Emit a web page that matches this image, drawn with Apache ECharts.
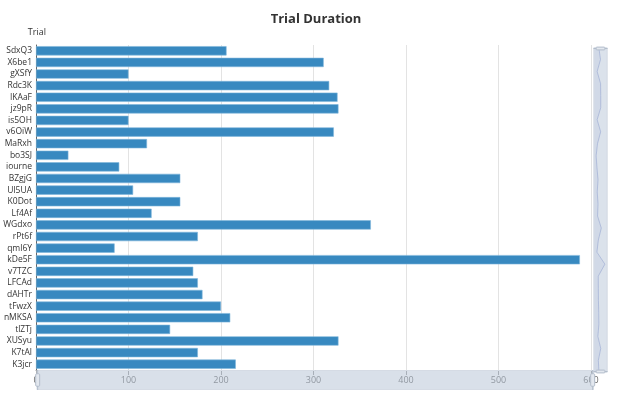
<!DOCTYPE html>
<html>
<head>
<meta charset="utf-8">
<script src="https://cdn.jsdelivr.net/npm/echarts@6/dist/echarts.min.js"></script>
<style>html,body{margin:0;padding:0;background:#fff}#c{width:632px;height:400px}</style>
</head>
<body>
<div id="c"></div>
<script>
var trials = ['SdxQ3','X6be1','gXSfY','Rdc3K','IKAaF','jz9pR','is5OH','v6OiW','MaRxh','bo3SJ','iourne','BZgjG','Ul5UA','K0Dot','Lf4Af','WGdxo','rPt6f','qml6Y','kDe5F','v7TZC','LFCAd','dAHTr','tFwzX','nMKSA','tlZTj','XUSyu','K7tAl','K3jcr'];
var durations = [206,311,100,317,326,327,100,322,120,35,90,156,105,156,125,362,175,85,588,170,175,180,200,210,145,327,175,216];
var xTicks = [0,100,200,300,400,500,600];

var chart = echarts.init(document.getElementById('c'));
chart.setOption({
  animation: false,
  textStyle: {fontFamily: '"Open Sans", "Noto Sans", sans-serif'},
  title: {
    text: 'Trial Duration', left: 'center', top: 8,
    textStyle: {fontSize: 13, fontWeight: 'bold', color: '#333'}
  },
  grid: {left: 36, right: 41, top: 45, bottom: 30},
  xAxis: {
    type: 'value', min: xTicks[0], max: xTicks[xTicks.length-1], interval: 100,
    axisLine: {show: true, lineStyle: {color: '#999'}},
    axisTick: {show: true, lineStyle: {color: '#999'}},
    axisLabel: {color: '#666', fontSize: 9, margin: 6},
    splitLine: {lineStyle: {color: '#e3e3e3'}}
  },
  yAxis: {
    type: 'category', data: trials, inverse: true,
    name: 'Trial', nameLocation: 'start', nameGap: 8,
    nameTextStyle: {fontSize: 9, color: '#333', align: 'right', padding: [0, -10, 0, 0]},
    axisLine: {lineStyle: {color: '#666'}},
    axisTick: {lineStyle: {color: '#666'}},
    axisLabel: {fontSize: 8.5, color: '#333', margin: 4, interval: 0}
  },
  dataZoom: [
    {type: 'slider', xAxisIndex: 0, left: 36, right: 39, bottom: 10, height: 20,
     showDetail: false, showDataShadow: false,
     backgroundColor: 'rgba(210,218,230,0.3)', fillerColor: 'rgba(167,183,204,0.32)',
     borderColor: '#d5dbe4', handleSize: '100%', moveHandleSize: 0,
     handleStyle: {color: '#e3e8ef', borderColor: '#b3bdcb'}},
    {type: 'slider', yAxisIndex: 0, right: 25, top: 45, bottom: 30, width: 14,
     showDetail: false, moveHandleSize: 0,
     backgroundColor: 'rgba(210,218,230,0.3)', fillerColor: 'rgba(167,183,204,0.3)',
     borderColor: '#d5dbe4', handleSize: '100%',
     handleStyle: {color: '#e3e8ef', borderColor: '#b3bdcb'},
     dataBackground: {lineStyle: {color: '#c0cadb'}, areaStyle: {color: 'rgba(190,200,215,0.3)'}}}
  ],
  series: [{
    type: 'bar', data: durations, barCategoryGap: '20%',
    itemStyle: {color: '#3889c0', borderColor: '#7fb7dc', borderWidth: 0.6}
  }]
});
</script>
</body>
</html>
